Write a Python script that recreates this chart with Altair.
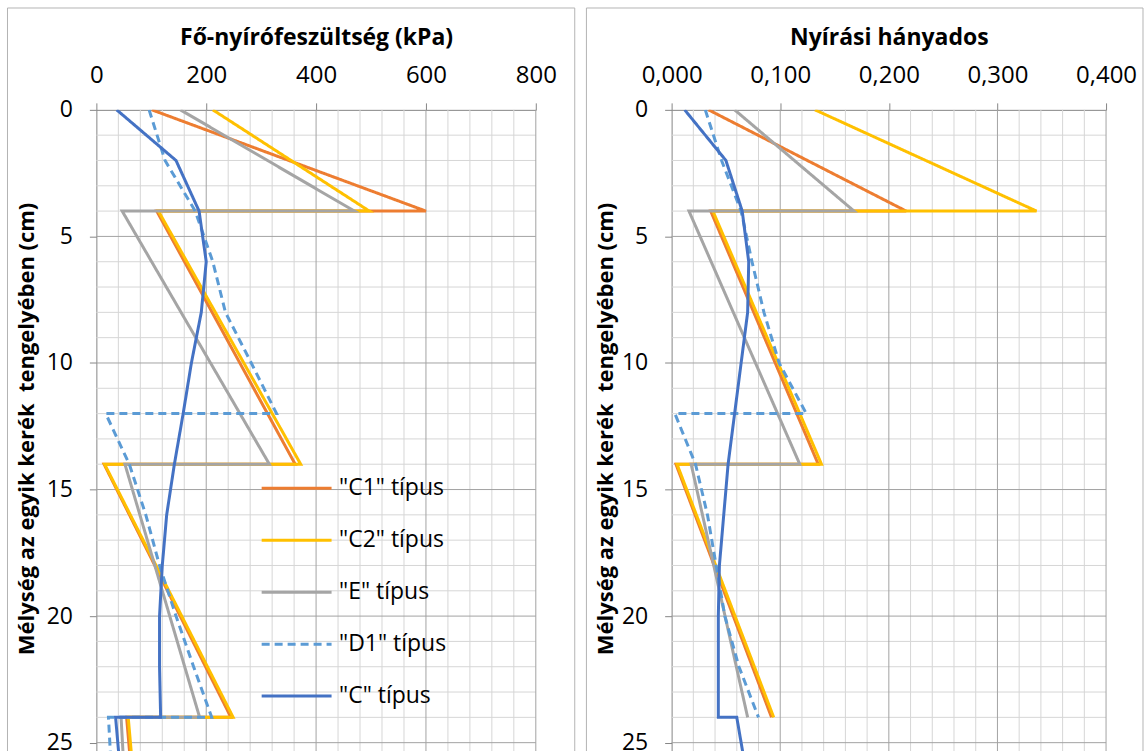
import altair as alt
import pandas as pd

# Series (legend order = drawing order)
SERIES = ['"C1" típus', '"C2" típus', '"E" típus', '"D1" típus', '"C" típus']
COLORS = ["#ED7D31", "#FFC000", "#A5A5A5", "#5B9BD5", "#4472C4"]
DASHES = [[1, 0], [1, 0], [1, 0], [8, 5], [1, 0]]

# --- Fő-nyírófeszültség (kPa) vs. depth (cm) ---
kpa_c1_depth = [0, 4, 4, 14, 14, 24, 24, 26]
kpa_c1_value = [101, 600, 110, 362, 14, 245, 55, 63]

kpa_c2_depth = [0, 4, 4, 14, 14, 24, 24, 26]
kpa_c2_value = [212, 497, 113, 372, 15, 249, 58, 66]

kpa_e_depth = [0, 4, 4, 14, 14, 24, 24, 26]
kpa_e_value = [153, 470, 47, 315, 52, 188, 45, 50]

kpa_d1_depth = [0, 2, 4, 6, 8, 10, 12, 12, 14, 16, 18, 20, 22, 24, 24, 26]
kpa_d1_value = [96, 125, 180, 212, 235, 282, 328, 17, 60, 90, 115, 145, 177, 210, 22, 27]

kpa_c_depth = [0, 2, 4, 6, 8, 10, 12, 14, 16, 18, 20, 22, 24, 24, 26]
kpa_c_value = [37, 145, 187, 200, 191, 173, 158, 142, 128, 120, 115, 115, 117, 35, 43]

# --- Nyírási hányados vs. depth (cm) ---
rat_c1_depth = [0, 4, 4, 14, 14, 24]
rat_c1_value = [0.034, 0.216, 0.036, 0.135, 0.004, 0.092]

rat_c2_depth = [0, 4, 4, 14, 14, 24]
rat_c2_value = [0.132, 0.336, 0.038, 0.138, 0.005, 0.094]

rat_e_depth = [0, 4, 4, 14, 14, 24]
rat_e_value = [0.058, 0.168, 0.016, 0.118, 0.018, 0.070]

rat_d1_depth = [0, 2, 4, 6, 8, 10, 12, 12, 14, 16, 18, 20, 22, 24]
rat_d1_value = [0.031, 0.046, 0.064, 0.074, 0.085, 0.099, 0.124, 0.003, 0.022, 0.033, 0.041, 0.049, 0.062, 0.080]

rat_c_depth = [0, 2, 4, 6, 8, 10, 12, 14, 16, 18, 20, 22, 24, 24, 26]
rat_c_value = [0.012, 0.050, 0.065, 0.071, 0.070, 0.064, 0.058, 0.052, 0.048, 0.044, 0.043, 0.043, 0.043, 0.060, 0.068]

# Axis ticks and grid positions
kpa_ticks = [0, 200, 400, 600, 800]
kpa_minor = [v for v in range(40, 800, 40) if v % 200 != 0]
rat_ticks = [0.0, 0.1, 0.2, 0.3, 0.4]
rat_minor = [round(i * 0.02, 3) for i in range(1, 20) if i % 5 != 0]
depth_ticks = [0, 5, 10, 15, 20, 25]
depth_minor = [d for d in range(1, 26) if d % 5 != 0]
depth_major = [5, 10, 15, 20, 25]

# the double space between the last two words is kept with a no-break space
Y_TITLE = "Mélység az egyik kerék \u00a0tengelyében (cm)"
FONT = "Open Sans"
PLOT_H = 642
DEPTH_MAX = 25.33
MINOR_C = "#d6d6d6"
MAJOR_C = "#a3a3a3"
AXIS_C = "#868686"
FRAME_C = "#b4b4b4"


def long_table(pairs):
    rows = []
    for name, depths, values in pairs:
        for i, (d, v) in enumerate(zip(depths, values)):
            rows.append({"series": name, "idx": i, "depth": d, "value": v})
    return pd.DataFrame(rows)


kpa_df = long_table([
    (SERIES[0], kpa_c1_depth, kpa_c1_value),
    (SERIES[1], kpa_c2_depth, kpa_c2_value),
    (SERIES[2], kpa_e_depth, kpa_e_value),
    (SERIES[3], kpa_d1_depth, kpa_d1_value),
    (SERIES[4], kpa_c_depth, kpa_c_value),
])
rat_df = long_table([
    (SERIES[0], rat_c1_depth, rat_c1_value),
    (SERIES[1], rat_c2_depth, rat_c2_value),
    (SERIES[2], rat_e_depth, rat_e_value),
    (SERIES[3], rat_d1_depth, rat_d1_value),
    (SERIES[4], rat_c_depth, rat_c_value),
])


def panel(df, width, x_domain, x_ticks, x_minor, x_title, label_expr,
          title_x, frame_left, frame_right, legend):
    xs = alt.Scale(domain=x_domain, nice=False, zero=False)
    ys = alt.Scale(domain=[0, DEPTH_MAX], reverse=True, nice=False, zero=False)

    # identical axis definitions on every layer so that they merge cleanly
    x_axis = alt.Axis(
        orient="top", values=x_ticks, title=x_title, labelExpr=label_expr,
        grid=False, tickSize=7, labelPadding=20, labelBaseline="alphabetic",
        labelFlush=False, labelOverlap=False, labelFontSize=24,
        titleY=-65, titleBaseline="alphabetic", titleFontSize=23)
    y_axis = alt.Axis(
        orient="left", values=depth_ticks, title=Y_TITLE, grid=False,
        tickSize=7, labelPadding=17, labelFlush=False, labelOverlap=False,
        labelFontSize=23, titleFontSize=22,
        titleX=title_x, titleY=319,
        titleAlign="center", titleBaseline="alphabetic", titleAngle=270)

    minor_v = alt.Chart(pd.DataFrame({"v": x_minor})).mark_rule(
        color=MINOR_C, strokeWidth=1).encode(x=alt.X("v:Q", scale=xs, axis=x_axis))
    minor_h = alt.Chart(pd.DataFrame({"d": depth_minor})).mark_rule(
        color=MINOR_C, strokeWidth=1).encode(y=alt.Y("d:Q", scale=ys, axis=y_axis))
    major_v = alt.Chart(pd.DataFrame({"v": x_ticks[1:]})).mark_rule(
        color=MAJOR_C, strokeWidth=1).encode(x=alt.X("v:Q", scale=xs, axis=x_axis))
    major_h = alt.Chart(pd.DataFrame({"d": depth_major})).mark_rule(
        color=MAJOR_C, strokeWidth=1).encode(y=alt.Y("d:Q", scale=ys, axis=y_axis))

    one = pd.DataFrame({"k": [0]})
    frame_parts = [
        alt.Chart(one).mark_rule(color=FRAME_C, strokeWidth=1).encode(
            x=alt.value(frame_left), y=alt.value(-102), y2=alt.value(PLOT_H)),
        alt.Chart(one).mark_rule(color=FRAME_C, strokeWidth=1).encode(
            x=alt.value(frame_left), x2=alt.value(frame_right), y=alt.value(-102)),
    ]
    if frame_right < width + 60:
        frame_parts.append(
            alt.Chart(one).mark_rule(color=FRAME_C, strokeWidth=1).encode(
                x=alt.value(frame_right), y=alt.value(-102), y2=alt.value(PLOT_H)))

    lines = alt.Chart(df).mark_line(strokeWidth=3, clip=True).encode(
        x=alt.X("value:Q", scale=xs, axis=x_axis),
        y=alt.Y("depth:Q", scale=ys, axis=y_axis),
        color=alt.Color("series:N", scale=alt.Scale(domain=SERIES, range=COLORS),
                        legend=legend),
        strokeDash=alt.StrokeDash("series:N", scale=alt.Scale(domain=SERIES, range=DASHES),
                                  legend=legend),
        order=alt.Order("idx:Q"),
    )

    return alt.layer(minor_v, minor_h, major_v, major_h, *frame_parts, lines).properties(
        width=width, height=PLOT_H)


legend_left = alt.Legend(
    title=None, orient="none", legendX=164, legendY=353,
    symbolType="stroke", symbolSize=4900, symbolStrokeWidth=3,
    labelFontSize=23, labelFont=FONT, labelColor="black", labelOffset=6,
    clipHeight=52, rowPadding=0, padding=0)

left = panel(kpa_df, 440, [0, 800], kpa_ticks, kpa_minor,
             "Fő-nyírófeszültség (kPa)", "format(datum.value, 'd')",
             -63, -89, 479, legend_left)
right = panel(rat_df, 435, [0, 0.4], rat_ticks, rat_minor,
              "Nyírási hányados", "replace(format(datum.value, '.3f'), '.', ',')",
              -59, -85.3, 472, None)

chart = alt.hconcat(left, right, spacing=136, bounds="flush").resolve_scale(
    color="independent", strokeDash="independent"
).properties(
    padding={"left": 6.5, "top": 6.5, "right": 0, "bottom": 0},
    background="white",
).configure(font=FONT).configure_view(stroke=None).configure_axis(
    domainColor=AXIS_C, tickColor=AXIS_C, domainWidth=1, tickWidth=1,
    labelFont=FONT, labelColor="black",
    titleFont=FONT, titleFontWeight="bold", titleColor="black",
)

chart.save("out.html", embed_options={"renderer": "svg", "actions": False})
